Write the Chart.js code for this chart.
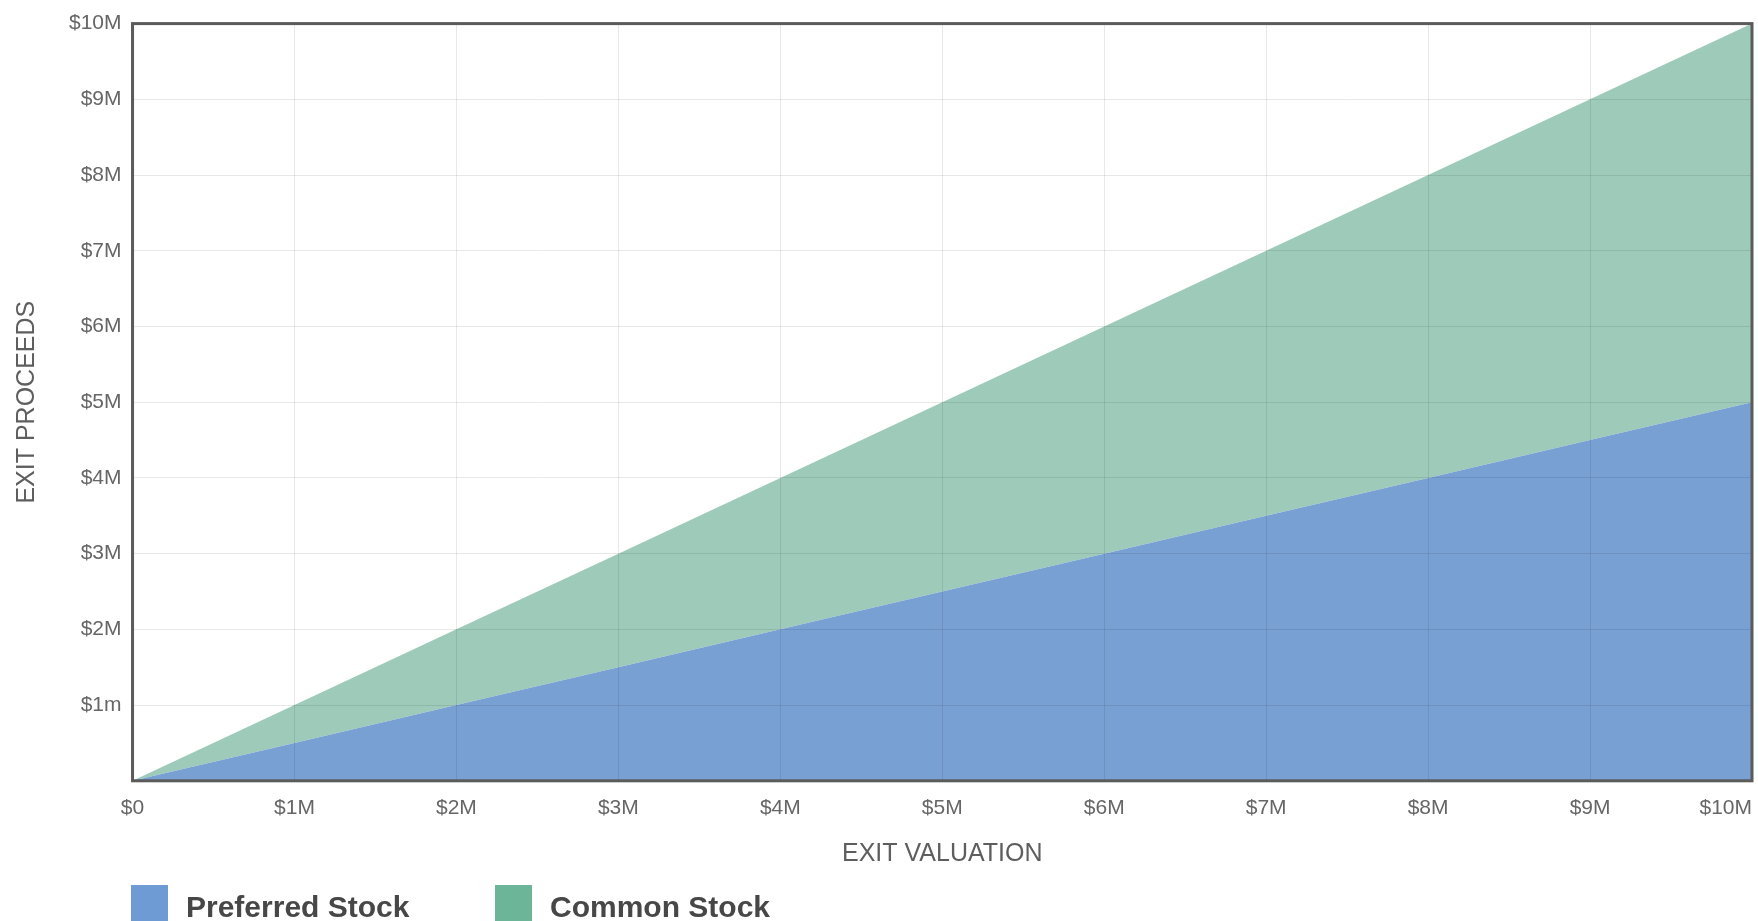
<!DOCTYPE html>
<html>
<head>
<meta charset="utf-8">
<title>Exit Proceeds by Exit Valuation</title>
<script src="https://cdn.jsdelivr.net/npm/chart.js@4.4.1/dist/chart.umd.min.js"></script>
<style>
  html, body { margin: 0; padding: 0; background: #ffffff; overflow: hidden; }
  #wrap { position: relative; width: 1758px; height: 921px; }
</style>
</head>
<body>
<div id="wrap"><canvas id="chart" width="1758" height="921"></canvas></div>
<script>
// Exit valuation steps (x axis), in $M
const valuationLabels = ['$0', '$1M', '$2M', '$3M', '$4M', '$5M', '$6M', '$7M', '$8M', '$9M', '$10M'];
// Proceeds going to each class, in $M (stacked: preferred + common = valuation)
const preferredProceeds = [0, 0.5, 1, 1.5, 2, 2.5, 3, 3.5, 4, 4.5, 5];
const commonProceeds = [0, 0.5, 1, 1.5, 2, 2.5, 3, 3.5, 4, 4.5, 5];
// Y axis tick labels, from $0 upward
const proceedsTickLabels = ['', '$1m', '$2M', '$3M', '$4M', '$5M', '$6M', '$7M', '$8M', '$9M', '$10M'];

const FONT = '"Liberation Sans", Arial, Helvetica, sans-serif';

// Right-align the last x label so it sits inside the plot edge
const lastLabelInside = {
  id: 'lastLabelInside',
  beforeDraw(chart) {
    const items = chart.scales.x.getLabelItems();
    if (items.length) items[items.length - 1].options.textAlign = 'right';
  }
};

// Dark frame around the plot area
const plotFrame = {
  id: 'plotFrame',
  afterDraw(chart) {
    const { ctx, chartArea: a } = chart;
    ctx.save();
    ctx.strokeStyle = '#5b5b5b';
    ctx.lineWidth = 3;
    ctx.strokeRect(a.left, a.top, a.right - a.left, a.bottom - a.top);
    ctx.restore();
  }
};

// Square-swatch legend along the bottom-left
const swatchLegend = {
  id: 'swatchLegend',
  afterDraw(chart) {
    const { ctx } = chart;
    ctx.save();
    ctx.font = 'bold 30px ' + FONT;
    ctx.textBaseline = 'alphabetic';
    ctx.textAlign = 'left';
    chart.data.datasets.forEach((ds, i) => {
      const x = 131 + i * 364;
      ctx.fillStyle = ds.borderColor;
      ctx.fillRect(x, 885, 37, 40);
      ctx.fillStyle = '#474747';
      ctx.fillText(ds.label, x + 55, 917);
    });
    ctx.restore();
  }
};

new Chart(document.getElementById('chart'), {
  type: 'line',
  data: {
    labels: valuationLabels,
    datasets: [
      {
        label: 'Preferred Stock',
        data: preferredProceeds,
        fill: 'origin',
        backgroundColor: '#79a0d3',
        borderColor: '#6f9bd4',
        borderWidth: 0,
        pointRadius: 0,
        tension: 0
      },
      {
        label: 'Common Stock',
        data: commonProceeds,
        fill: '-1',
        backgroundColor: '#9ecbb9',
        borderColor: '#6cb598',
        borderWidth: 0,
        pointRadius: 0,
        tension: 0
      }
    ]
  },
  options: {
    responsive: false,
    animation: false,
    layout: { padding: { top: 19, right: 6, bottom: 52, left: 12 } },
    plugins: {
      legend: { display: false },
      tooltip: { enabled: false }
    },
    scales: {
      x: {
        grid: { color: 'rgba(0,0,0,0.09)', drawTicks: false, z: 1 },
        border: { display: false },
        ticks: {
          color: '#666666',
          font: { family: FONT, size: 21 },
          padding: 15,
          maxRotation: 0,
          autoSkip: false
        },
        title: {
          display: true,
          text: 'EXIT VALUATION',
          color: '#5e5e5e',
          font: { family: FONT, size: 25 },
          padding: { top: 3, bottom: 0 }
        },
        afterFit(scale) { scale.paddingRight = 0; scale.paddingLeft = 0; }
      },
      y: {
        stacked: true,
        min: 0,
        max: 10,
        grid: { color: 'rgba(0,0,0,0.09)', drawTicks: false, z: 1 },
        border: { display: false },
        ticks: {
          stepSize: 1,
          color: '#666666',
          font: { family: FONT, size: 21 },
          padding: 11,
          callback: (value, index) => proceedsTickLabels[index]
        },
        title: {
          display: true,
          text: 'EXIT PROCEEDS',
          color: '#5e5e5e',
          font: { family: FONT, size: 25 },
          padding: { top: 0, bottom: 16 }
        }
      }
    }
  },
  plugins: [lastLabelInside, plotFrame, swatchLegend]
});
</script>
</body>
</html>
